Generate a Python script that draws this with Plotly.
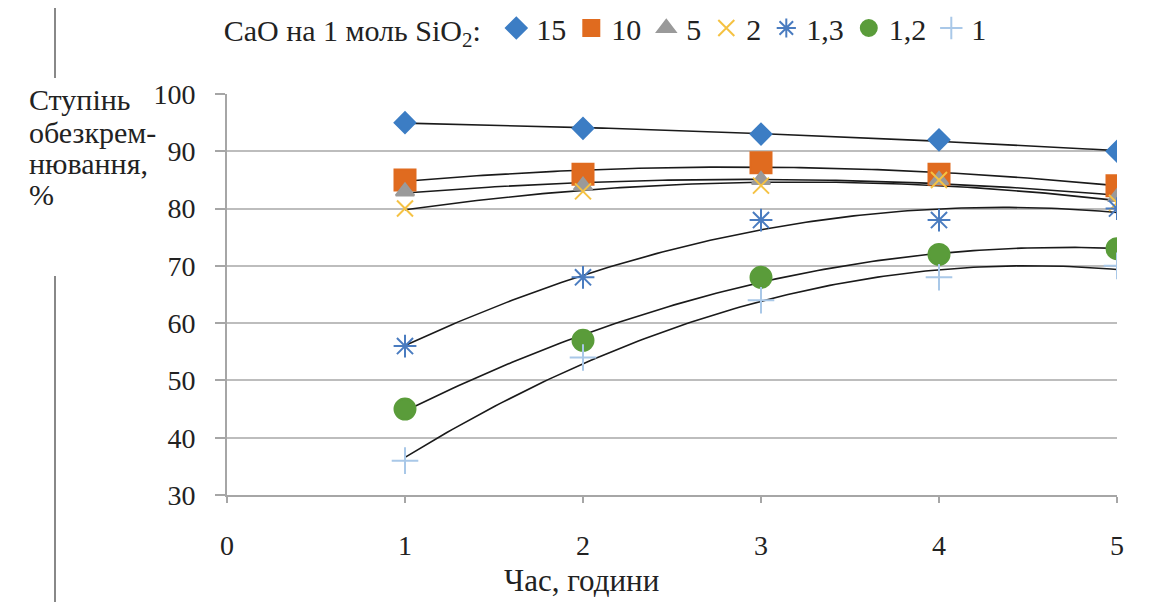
import numpy as np
import plotly.graph_objects as go

hours = [1, 2, 3, 4, 5]
series_names = ["15", "10", "5", "2", "1,3", "1,2", "1"]
v15 = [95, 94, 93, 92, 90]
v10 = [85, 86, 88, 86, 84]
v5 = [83, 84, 85, 85, 82]
v2 = [80, 83, 84, 85, 81]
v13 = [56, 68, 78, 78, 80]
v12 = [45, 57, 68, 72, 73]
v1 = [36, 54, 64, 68, 70]
values = [v15, v10, v5, v2, v13, v12, v1]

colors = ["#3C7DC4", "#E06B1F", "#9A9A9A", "#F5C243", "#4A7CC0", "#5A9C3A", "#A9C8E8"]
symbols = ["diamond", "square", "triangle-up", "x-thin-open", "asterisk-open", "circle", "cross-thin-open"]
sizes = [16, 21, 16, 16, 19, 21, 19]

yticks = [30, 40, 50, 60, 70, 80, 90, 100]
xticks = [0, 1, 2, 3, 4, 5]
ytitle_lines = ["Ступінь", "обезкрем-", "нювання,", "%"]

SERIF = "Liberation Serif"
FS = 28

fig = go.Figure()

# polynomial (2nd order) trend lines, drawn underneath markers
xs = np.linspace(1, 5, 120)
for vals in values:
    c = np.polyfit(hours, vals, 2)
    fig.add_trace(go.Scatter(x=xs, y=np.polyval(c, xs), mode="lines",
                             line=dict(color="#1a1a1a", width=1.6),
                             showlegend=False, hoverinfo="skip"))

for i in range(len(values)):
    fig.add_trace(go.Scatter(
        x=hours, y=values[i], mode="markers", name=series_names[i],
        marker=dict(symbol=symbols[i], color=colors[i], size=sizes[i],
                    line=dict(color=colors[i], width=2)),
        legendrank=i + 1,
    ))

annotations = []
line_y = [100, 132, 163, 194]
for txt, py in zip(ytitle_lines, line_y):
    annotations.append(dict(text=txt, xref="paper", yref="paper",
                            x=(27 - 227) / 890, y=(495 - py) / 401,
                            xanchor="left", yanchor="middle", align="left", showarrow=False,
                            font=dict(family=SERIF, size=30, color="#222")))
annotations.append(dict(text="Час, години", xref="paper", yref="paper",
                        x=(581 - 227) / 890, y=(495 - 580) / 401, xanchor="center", yanchor="middle",
                        showarrow=False, font=dict(family=SERIF, size=31, color="#222")))

fig.update_layout(
    width=1155, height=602,
    margin=dict(l=227, r=38, t=94, b=107, autoexpand=False),
    paper_bgcolor="white", plot_bgcolor="white",
    font=dict(family=SERIF, size=FS, color="#222"),
    showlegend=True,
    legend=dict(orientation="h", x=-0.006, y=(495 - 28) / 401, xanchor="left", yanchor="middle",
                title=dict(text="CaO на 1 моль SiO<sub>2</sub>: ", side="left",
                           font=dict(family=SERIF, size=30, color="#222")),
                font=dict(family=SERIF, size=30, color="#222"),
                itemwidth=30, tracegroupgap=0, bgcolor="rgba(0,0,0,0)"),
    xaxis=dict(range=[0, 5], tickvals=xticks, ticktext=[str(t) for t in xticks],
               showgrid=False, zeroline=False, showline=True, linecolor="#A6A6A6", linewidth=2,
               ticks="outside", ticklen=6, tickcolor="#A6A6A6", tickwidth=2,
               ticklabelstandoff=18, tickfont=dict(family=SERIF, size=FS, color="#222")),
    yaxis=dict(range=[30, 100], tickvals=yticks, ticktext=[str(t) for t in yticks],
               showgrid=True, gridcolor="#BDBDBD", gridwidth=2, zeroline=False,
               showline=True, linecolor="#A6A6A6", linewidth=2,
               ticks="outside", ticklen=10, tickcolor="#A6A6A6", tickwidth=2,
               ticklabelstandoff=14, tickfont=dict(family=SERIF, size=FS, color="#222")),
    annotations=annotations,
    shapes=[
        dict(type="line", xref="paper", yref="paper",
             x0=(55 - 227) / 890, x1=(55 - 227) / 890,
             y0=(495 - 8) / 401, y1=(495 - 78) / 401,
             line=dict(color="#888", width=2)),
        dict(type="line", xref="paper", yref="paper",
             x0=(55 - 227) / 890, x1=(55 - 227) / 890,
             y0=(495 - 276) / 401, y1=(495 - 602) / 401,
             line=dict(color="#888", width=2)),
    ],
)

fig.write_html("out.html")
